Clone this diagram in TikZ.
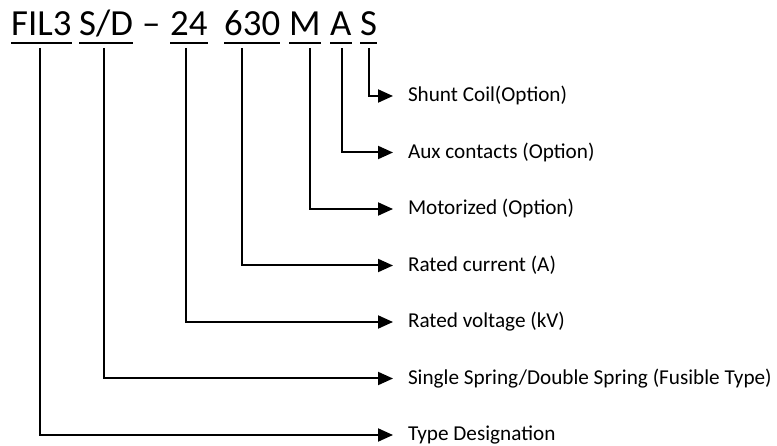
\documentclass[tikz,border=0pt]{standalone}
\usepackage{fontspec}
\setmainfont{Carlito}
\usetikzlibrary{arrows.meta}
\begin{document}
\begin{tikzpicture}[x=1pt,y=-1pt,
  word/.style={anchor=base west,inner sep=0pt,font=\fontsize{36.8pt}{40pt}\selectfont},
  uline/.style={line width=2pt},
  lbl/.style={anchor=west,inner ysep=0pt,inner xsep=0pt,outer xsep=15pt,
    text height=16pt,text depth=4pt,font=\fontsize{21.2pt}{24pt}\selectfont},
  conn/.style={line width=2pt,-{Triangle[length=15pt,width=13pt]}}]
\useasboundingbox (0,0) rectangle (777,446);
% title words
\node[word] (wFIL) at (11,36) {FIL3};
\node[word] (wSD) at (79,36) {S/D};
\node[word] (wDash) at (142,36) {–};
\node[word] (w24) at (170,36) {24};
\node[word] (w630) at (224,36) {630};
\node[word] (wM) at (289,36) {M};
\node[word] (wA) at (330,36) {A};
\node[word] (wS) at (360,36) {S};
\foreach \w in {wFIL,wSD,w24,w630,wM,wA,wS}
  \draw[uline] (\w.west |- 0,43) -- (\w.east |- 0,43);
% labels
\node[lbl] (lS) at (393,96) {Shunt Coil(Option)};
\node[lbl] (lA) at (393,152.5) {Aux contacts (Option)};
\node[lbl] (lM) at (393,209) {Motorized (Option)};
\node[lbl] (lC) at (393,265.5) {Rated current (A)};
\node[lbl] (lV) at (393,322) {Rated voltage (kV)};
\node[lbl] (lSD) at (393,378.5) {Single Spring/Double Spring (Fusible Type)};
\node[lbl] (lT) at (393,435) {Type Designation};
% tick starts
\coordinate (tFIL) at (40,48);
\coordinate (tSD) at (104,48);
\coordinate (t24) at (186,48);
\coordinate (t630) at (242,48);
\coordinate (tM) at (310,48);
\coordinate (tA) at (342,48);
\coordinate (tS) at (369,48);
% connectors
\draw[conn] (tS) |- (lS.west);
\draw[conn] (tA) |- (lA.west);
\draw[conn] (tM) |- (lM.west);
\draw[conn] (t630) |- (lC.west);
\draw[conn] (t24) |- (lV.west);
\draw[conn] (tSD) |- (lSD.west);
\draw[conn] (tFIL) |- (lT.west);
\end{tikzpicture}
\end{document}
